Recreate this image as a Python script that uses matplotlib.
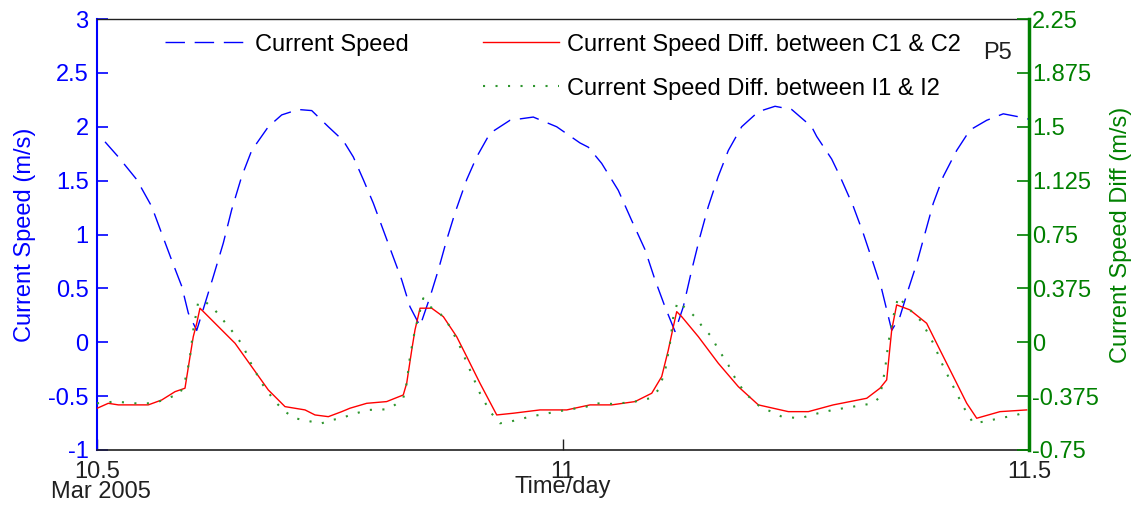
import matplotlib
matplotlib.use("Agg")
import matplotlib.pyplot as plt
from matplotlib.ticker import FormatStrFormatter

plt.rcParams['font.family'] = ['Liberation Sans', 'DejaVu Sans']
plt.rcParams['axes.unicode_minus'] = False

# current speed (left axis, m/s)
speed_t = [10.5086, 10.5229, 10.5426, 10.5587, 10.5694, 10.5802, 10.5909, 10.5980,
           10.6070, 10.6159, 10.6248, 10.6355, 10.6445, 10.6553, 10.6660, 10.6838,
           10.6982, 10.7160, 10.7304, 10.7482, 10.7643, 10.7750, 10.7857, 10.7965,
           10.8072, 10.8179, 10.8269, 10.8358, 10.8466, 10.8573, 10.8662, 10.8752,
           10.8841, 10.8967, 10.9074, 10.9217, 10.9431, 10.9681, 10.9932, 11.0182,
           11.0272, 11.0415, 11.0593, 11.0737, 11.0880, 11.0987, 11.1094, 11.1202,
           11.1291, 11.1381, 11.1470, 11.1559, 11.1666, 11.1774, 11.1917, 11.2096,
           11.2275, 11.2454, 11.2668, 11.2722, 11.2883, 11.2972, 11.3115, 11.3222,
           11.3330, 11.3420, 11.3527, 11.3616, 11.3705, 11.3795, 11.3884, 11.3973,
           11.4081, 11.4224, 11.4367, 11.4546, 11.4724, 11.4903, 11.5000]
speed = [1.86, 1.72, 1.51, 1.26, 1.01, 0.76, 0.52, 0.27,
         0.11, 0.36, 0.61, 0.92, 1.23, 1.54, 1.78, 2.00,
         2.11, 2.16, 2.15, 2.00, 1.87, 1.72, 1.51, 1.29,
         1.04, 0.79, 0.58, 0.33, 0.15, 0.42, 0.67, 0.95,
         1.20, 1.51, 1.72, 1.94, 2.06, 2.09, 2.00, 1.85,
         1.81, 1.66, 1.41, 1.13, 0.86, 0.58, 0.33, 0.10,
         0.33, 0.67, 0.98, 1.26, 1.54, 1.78, 2.00, 2.14,
         2.19, 2.16, 2.00, 1.91, 1.70, 1.54, 1.26, 1.01,
         0.73, 0.49, 0.11, 0.24, 0.49, 0.73, 1.01, 1.29,
         1.54, 1.78, 1.97, 2.06, 2.12, 2.09, 2.07]

# speed difference C1 & C2 (right axis, m/s)
diff_c_t = [10.5000, 10.5121, 10.5229, 10.5550, 10.5694, 10.5837, 10.5944, 10.5998,
            10.6033, 10.6070, 10.6105, 10.6302, 10.6481, 10.6660, 10.6838, 10.7017,
            10.7232, 10.7339, 10.7482, 10.7626, 10.7715, 10.7894, 10.8108, 10.8286,
            10.8323, 10.8377, 10.8412, 10.8466, 10.8591, 10.8716, 10.8859, 10.8967,
            10.9109, 10.9289, 10.9467, 10.9753, 11.0040, 11.0290, 11.0522, 11.0773,
            11.0952, 11.1059, 11.1130, 11.1184, 11.1220, 11.1274, 11.1452, 11.1666,
            11.1881, 11.2096, 11.2418, 11.2632, 11.2900, 11.3259, 11.3401, 11.3473,
            11.3527, 11.3580, 11.3723, 11.3902, 11.4045, 11.4224, 11.4332, 11.4439,
            11.4689, 11.4975]
diff_c = [-0.460, -0.425, -0.436, -0.436, -0.402, -0.344, -0.320, -0.100,
          0.039, 0.132, 0.237, 0.109, -0.007, -0.170, -0.332, -0.448,
          -0.471, -0.506, -0.518, -0.483, -0.459, -0.425, -0.413, -0.367,
          -0.285, -0.054, 0.086, 0.237, 0.237, 0.178, 0.039, -0.100,
          -0.285, -0.506, -0.494, -0.471, -0.471, -0.436, -0.436, -0.413,
          -0.355, -0.239, -0.054, 0.109, 0.213, 0.178, 0.039, -0.146,
          -0.309, -0.436, -0.483, -0.483, -0.436, -0.390, -0.320, -0.262,
          0.086, 0.260, 0.225, 0.132, -0.054, -0.285, -0.425, -0.529,
          -0.483, -0.471]

# speed difference I1 & I2 (right axis, m/s)
diff_i_t = [10.5000, 10.5193, 10.5408, 10.5604, 10.5711, 10.5802, 10.5891, 10.5926,
            10.5962, 10.5998, 10.6033, 10.6087, 10.6159, 10.6248, 10.6338, 10.6409,
            10.6499, 10.6570, 10.6660, 10.6767, 10.6910, 10.7017, 10.7124, 10.7304,
            10.7411, 10.7518, 10.7626, 10.7715, 10.7911, 10.8108, 10.8197, 10.8286,
            10.8323, 10.8358, 10.8412, 10.8501, 10.8573, 10.8680, 10.8788, 10.8895,
            10.9002, 10.9109, 10.9217, 10.9324, 10.9431, 10.9646, 10.9932, 11.0254,
            11.0343, 11.0522, 11.0737, 11.0933, 11.1023, 11.1094, 11.1148, 11.1184,
            11.1231, 11.1327, 11.1435, 11.1505, 11.1596, 11.1649, 11.1774, 11.1827,
            11.1953, 11.2132, 11.2239, 11.2347, 11.2543, 11.2739, 11.2900, 11.3115,
            11.3330, 11.3401, 11.3455, 11.3490, 11.3544, 11.3598, 11.3688, 11.3849,
            11.3973, 11.4081, 11.4188, 11.4295, 11.4402, 11.4510, 11.4689, 11.4868,
            11.4975]
diff_i = [-0.425, -0.413, -0.425, -0.425, -0.402, -0.379, -0.360, -0.297,
          -0.228, -0.100, 0.086, 0.283, 0.283, 0.237, 0.167, 0.109,
          0.039, -0.031, -0.158, -0.285, -0.413, -0.483, -0.529, -0.553,
          -0.564, -0.541, -0.529, -0.506, -0.471, -0.467, -0.436, -0.390,
          -0.285, -0.100, 0.086, 0.306, 0.248, 0.202, 0.109, -0.031,
          -0.193, -0.355, -0.483, -0.564, -0.553, -0.518, -0.483, -0.448,
          -0.425, -0.429, -0.418, -0.390, -0.332, -0.205, -0.007, 0.178,
          0.283, 0.230, 0.167, 0.097, 0.039, -0.031, -0.158, -0.228,
          -0.355, -0.459, -0.483, -0.518, -0.529, -0.494, -0.471, -0.448,
          -0.425, -0.379, -0.193, -0.007, 0.178, 0.318, 0.248, 0.143,
          -0.007, -0.170, -0.309, -0.448, -0.564, -0.553, -0.529, -0.506,
          -0.483]

x_ticks = [10.5, 11, 11.5]
left_ticks = [-1, -0.5, 0, 0.5, 1, 1.5, 2, 2.5, 3]
right_ticks = [-0.75, -0.375, 0, 0.375, 0.75, 1.125, 1.5, 1.875, 2.25]

blue = (0, 0, 1)
green = (0, 0.5, 0)
dot_green = '#2e962e'
dark = '#202020'
fs = 17

fig = plt.figure(figsize=(11.39, 5.09), dpi=100)
ax = fig.add_axes([97/1139, 1-450/509, 932/1139, 431/509])
ax2 = ax.twinx()

l1, = ax.plot(speed_t, speed, color=blue, lw=1.0, dashes=(14, 7))
l2, = ax2.plot(diff_c_t, diff_c, color='red', lw=1.0)
l3, = ax2.plot(diff_i_t, diff_i, color=dot_green, lw=1.5, dashes=(1, 5))

ax.set_xlim(10.5, 11.5)
ax.set_ylim(-1, 3)
ax2.set_ylim(-0.75, 2.25)

ax.set_xticks(x_ticks)
ax.set_xticklabels(['10.5', '11', '11.5'])
ax.set_yticks(left_ticks)
ax.yaxis.set_major_formatter(FormatStrFormatter('%g'))
ax2.set_yticks(right_ticks)
ax2.yaxis.set_major_formatter(FormatStrFormatter('%g'))

ax.tick_params(axis='x', direction='in', length=8, width=1, colors=dark,
               labelsize=fs, pad=8)
ax.tick_params(axis='y', direction='in', length=8, width=1.2, colors=blue,
               labelsize=fs, pad=6)
ax2.tick_params(axis='y', direction='in', length=8.5, width=1.2, colors=green,
                labelsize=fs, pad=2)

ax.spines['left'].set_color(blue)
ax.spines['left'].set_linewidth(1.5)
ax.spines['right'].set_visible(False)
ax.spines['top'].set_color(dark)
ax.spines['top'].set_linewidth(1.0)
ax.spines['bottom'].set_color(dark)
ax.spines['bottom'].set_linewidth(1.2)
ax2.spines['right'].set_color(green)
ax2.spines['right'].set_linewidth(2.5)
for s in ['left', 'top', 'bottom']:
    ax2.spines[s].set_visible(False)

ax.set_ylabel('Current Speed (m/s)', color=blue, fontsize=fs, labelpad=9)
ax2.set_ylabel('Current Speed Diff (m/s)', color=green, fontsize=fs, labelpad=8)
ax.set_xlabel('Time/day', fontsize=fs, color=dark, labelpad=-5)

fig.text(101/1139, 1-492/509, 'Mar 2005', fontsize=fs, color=dark,
         ha='center', va='center')
fig.text(983/1139, 1-53/509, 'P5', fontsize=fs, color=dark,
         ha='left', va='center')

leg1 = ax2.legend([l1], ['Current Speed'], loc='upper left',
                  bbox_to_anchor=((165-97)/932, 0.966), frameon=False,
                  fontsize=fs, handlelength=3.4, handletextpad=0.4,
                  borderpad=0, borderaxespad=0)
ax2.add_artist(leg1)
ax2.legend([l2, l3], ['Current Speed Diff. between C1 & C2',
                      'Current Speed Diff. between I1 & I2'],
           loc='upper left', bbox_to_anchor=((483-97)/932, 0.966),
           frameon=False, fontsize=fs, handlelength=3.2, handletextpad=0.35,
           labelspacing=0.93, borderpad=0, borderaxespad=0)

fig.savefig('out.png', dpi=100)
